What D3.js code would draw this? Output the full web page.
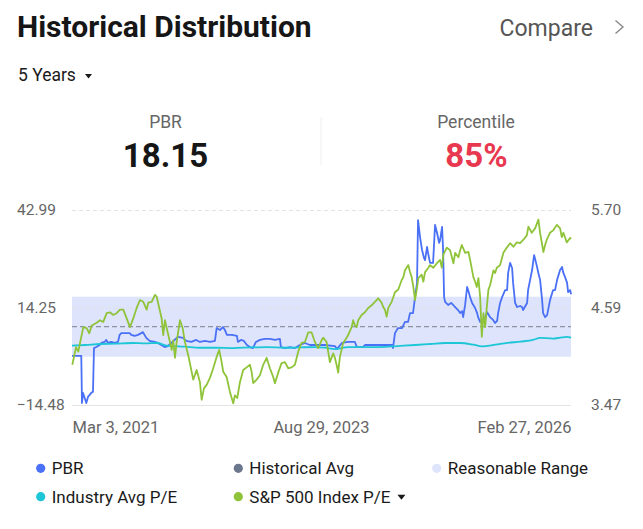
<!DOCTYPE html>
<html>
<head>
<meta charset="utf-8">
<script src="https://cdn.jsdelivr.net/npm/d3@7"></script>
<style>
  html, body { margin: 0; padding: 0; background: #ffffff; }
  svg { display: block; font-family: Roboto, "Noto Sans", Arial, sans-serif; }
</style>
</head>
<body>
<svg id="chart" width="643" height="529"></svg>
<script>
// ---------------- DATA ----------------
// dates as decimal years
const pbr = [
  [2021.167,0.0],[2021.260,0.0],[2021.267,-13.9],[2021.277,-10.9],[2021.294,-12.4],[2021.310,-13.9],
  [2021.327,-12.1],[2021.344,-11.5],[2021.360,-10.9],[2021.377,-10.6],[2021.387,2.3],[2021.410,2.6],
  [2021.444,3.2],[2021.460,3.8],[2021.494,4.1],[2021.510,4.7],[2021.527,3.8],[2021.560,4.1],
  [2021.594,3.8],[2021.627,4.1],[2021.644,6.2],[2021.660,6.7],[2021.697,6.7],[2021.744,6.7],
  [2021.760,6.2],[2021.794,5.9],[2021.827,6.2],[2021.860,6.7],[2021.877,7.0],[2021.910,5.3],
  [2021.944,4.4],[2021.994,4.1],[2022.027,3.8],[2022.060,3.2],[2022.094,2.6],[2022.127,2.9],
  [2022.160,3.8],[2022.194,4.7],[2022.227,5.6],[2022.277,5.3],[2022.310,4.4],[2022.360,4.1],
  [2022.410,4.7],[2022.447,4.1],[2022.497,4.4],[2022.547,4.1],[2022.597,4.4],[2022.614,8.2],
  [2022.647,7.6],[2022.677,8.5],[2022.697,7.6],[2022.717,6.2],[2022.767,6.2],[2022.817,5.9],
  [2022.827,4.1],[2022.857,4.7],[2022.887,4.4],[2022.917,3.2],[2022.947,2.6],[2022.977,2.3],
  [2023.007,4.1],[2023.047,4.7],[2023.097,5.0],[2023.147,5.0],[2023.197,4.7],[2023.247,5.0],
  [2023.257,2.6],[2023.297,2.3],[2023.347,2.6],[2023.397,2.3],[2023.447,3.2],[2023.497,3.8],
  [2023.547,3.2],[2023.597,3.2],[2023.697,3.2],[2023.797,2.9],[2023.817,2.0],[2023.867,3.8],
  [2023.927,4.1],[2023.997,4.1],[2024.017,2.6],[2024.077,2.6],[2024.097,3.2],[2024.197,3.2],
  [2024.297,3.2],[2024.367,3.2],[2024.377,2.3],[2024.397,6.7],[2024.427,8.2],[2024.467,8.2],
  [2024.497,10.0],[2024.527,10.0],[2024.547,12.6],[2024.577,12.6],[2024.597,17.3],[2024.617,21.5],
  [2024.627,40.0],[2024.647,35.0],[2024.667,31.2],[2024.687,28.8],[2024.697,28.2],[2024.717,32.1],
  [2024.727,30.3],[2024.747,27.4],[2024.777,27.4],[2024.797,38.6],[2024.817,36.2],[2024.837,33.3],
  [2024.847,34.1],[2024.867,38.0],[2024.877,31.2],[2024.887,17.3],[2024.897,15.9],[2024.927,15.0],
  [2024.957,15.6],[2024.977,15.0],[2024.997,14.4],[2025.027,13.5],[2025.047,12.6],[2025.067,13.2],
  [2025.077,11.4],[2025.097,15.0],[2025.117,20.3],[2025.127,19.4],[2025.147,17.3],[2025.167,15.6],
  [2025.197,14.1],[2025.217,12.6],[2025.227,11.4],[2025.247,10.0],[2025.277,10.6],[2025.297,11.2],
  [2025.317,12.9],[2025.347,11.4],[2025.377,10.6],[2025.397,9.7],[2025.417,10.3],[2025.427,12.6],
  [2025.447,15.6],[2025.467,17.3],[2025.497,19.4],[2025.517,19.4],[2025.527,24.4],[2025.547,27.4],
  [2025.567,25.9],[2025.577,21.5],[2025.597,15.6],[2025.617,14.4],[2025.647,14.7],[2025.667,14.4],
  [2025.677,13.5],[2025.717,15.6],[2025.727,19.4],[2025.747,22.4],[2025.767,25.3],[2025.787,29.7],
  [2025.817,26.2],[2025.827,24.7],[2025.847,22.4],[2025.867,16.5],[2025.877,12.6],[2025.897,11.4],
  [2025.917,12.0],[2025.927,13.5],[2025.947,16.5],[2025.977,19.4],[2025.997,19.4],[2026.017,22.4],
  [2026.047,25.3],[2026.067,26.2],[2026.077,24.7],[2026.097,23.2],[2026.117,21.5],[2026.127,18.8],
  [2026.147,19.4],[2026.157,18.15]
];

const industryAvg = [
  [2021.167,3.0],[2021.300,3.2],[2021.447,3.5],[2021.600,3.6],[2021.777,3.8],[2021.900,3.7],
  [2022.017,3.8],[2022.117,3.0],[2022.300,2.7],[2022.447,2.4],[2022.600,2.4],[2022.777,2.3],
  [2022.950,2.5],[2023.117,2.6],[2023.300,2.4],[2023.447,2.5],[2023.597,2.6],[2023.700,2.4],
  [2023.797,2.0],[2023.927,2.6],[2024.100,2.6],[2024.247,2.6],[2024.420,2.9],[2024.597,3.2],
  [2024.750,3.5],[2024.897,3.8],[2025.047,3.8],[2025.180,3.3],[2025.267,2.8],[2025.400,3.3],
  [2025.517,3.8],[2025.650,4.2],[2025.777,4.7],[2025.847,5.3],[2025.977,5.1],[2026.050,5.4],
  [2026.117,5.6],[2026.157,5.4]
];

const sp500PE = [
  [2021.170,3.93],[2021.187,4.02],[2021.207,4.13],[2021.230,4.08],[2021.264,4.27],[2021.280,4.36],
  [2021.314,4.35],[2021.340,4.29],[2021.364,4.38],[2021.414,4.41],[2021.447,4.44],[2021.480,4.42],
  [2021.514,4.52],[2021.547,4.53],[2021.580,4.50],[2021.614,4.52],[2021.647,4.56],[2021.680,4.56],
  [2021.714,4.46],[2021.747,4.36],[2021.780,4.46],[2021.814,4.58],[2021.847,4.67],[2021.880,4.65],
  [2021.914,4.56],[2021.930,4.64],[2021.964,4.65],[2021.997,4.73],[2022.014,4.71],[2022.040,4.58],
  [2022.064,4.46],[2022.080,4.27],[2022.097,4.44],[2022.114,4.35],[2022.147,4.19],[2022.164,4.10],
  [2022.180,4.21],[2022.197,4.01],[2022.214,4.19],[2022.247,4.44],[2022.274,4.35],[2022.297,4.19],
  [2022.330,4.04],[2022.364,3.85],[2022.380,3.76],[2022.414,3.87],[2022.447,3.73],[2022.464,3.53],
  [2022.487,3.66],[2022.514,3.70],[2022.547,3.78],[2022.580,3.89],[2022.614,4.02],[2022.640,4.10],
  [2022.664,3.96],[2022.680,3.85],[2022.714,3.79],[2022.747,3.62],[2022.780,3.49],[2022.797,3.58],
  [2022.820,3.55],[2022.847,3.73],[2022.880,3.87],[2022.914,3.90],[2022.947,3.93],[2022.964,3.85],
  [2022.980,3.72],[2023.014,3.76],[2023.047,3.81],[2023.080,3.93],[2023.114,4.01],[2023.147,3.89],
  [2023.180,3.79],[2023.197,3.72],[2023.230,3.84],[2023.264,3.95],[2023.297,3.96],[2023.330,3.89],
  [2023.364,3.90],[2023.397,3.93],[2023.430,4.08],[2023.464,4.18],[2023.497,4.19],[2023.530,4.30],
  [2023.564,4.30],[2023.597,4.19],[2023.630,4.12],[2023.664,4.21],[2023.680,4.24],[2023.714,4.19],
  [2023.730,4.08],[2023.747,3.96],[2023.780,4.06],[2023.797,4.01],[2023.814,3.93],[2023.830,3.84],
  [2023.847,4.02],[2023.880,4.18],[2023.914,4.24],[2023.930,4.27],[2023.964,4.36],[2023.980,4.44],
  [2023.997,4.38],[2024.014,4.36],[2024.030,4.44],[2024.064,4.50],[2024.097,4.53],[2024.130,4.58],
  [2024.164,4.61],[2024.197,4.65],[2024.230,4.69],[2024.264,4.64],[2024.280,4.59],[2024.297,4.56],
  [2024.314,4.48],[2024.330,4.58],[2024.364,4.65],[2024.397,4.76],[2024.430,4.79],[2024.464,4.90],
  [2024.480,4.93],[2024.497,5.01],[2024.530,5.07],[2024.547,4.99],[2024.564,4.93],[2024.580,4.82],
  [2024.597,4.67],[2024.614,4.79],[2024.630,4.92],[2024.664,4.96],[2024.680,4.88],[2024.697,4.99],
  [2024.730,5.04],[2024.747,5.07],[2024.780,5.04],[2024.814,5.09],[2024.847,5.13],[2024.864,5.04],
  [2024.880,5.19],[2024.914,5.27],[2024.947,5.24],[2024.980,5.09],[2024.997,5.21],[2025.030,5.16],
  [2025.047,5.24],[2025.064,5.30],[2025.097,5.21],[2025.130,5.22],[2025.147,5.13],[2025.180,4.93],
  [2025.197,4.88],[2025.214,4.82],[2025.230,4.92],[2025.247,4.71],[2025.264,4.25],[2025.280,4.52],
  [2025.297,4.36],[2025.314,4.59],[2025.330,4.79],[2025.347,4.84],[2025.380,5.01],[2025.397,4.98],
  [2025.414,5.04],[2025.447,5.07],[2025.480,5.21],[2025.514,5.27],[2025.547,5.32],[2025.580,5.28],
  [2025.614,5.33],[2025.647,5.32],[2025.680,5.36],[2025.714,5.41],[2025.730,5.51],[2025.764,5.44],
  [2025.797,5.49],[2025.830,5.59],[2025.847,5.44],[2025.880,5.22],[2025.897,5.30],[2025.914,5.36],
  [2025.947,5.44],[2025.980,5.47],[2026.014,5.53],[2026.047,5.49],[2026.064,5.39],[2026.080,5.44],
  [2026.114,5.33],[2026.147,5.38],[2026.157,5.37]
];

const historicalAvg = 8.60;
const reasonableRange = [-0.24, 17.44];
const leftTicks = [-14.48, 14.25, 42.99];
const rightTicks = [3.47, 4.59, 5.70];
const dateTicks = ["2021-03-03", "2023-08-29", "2026-02-27"];
const dateDomain = ["2021-03-03", "2026-02-27"];
const currentPBR = "18.15";
const currentPercentile = "85%";
const legendItems = [
  { name: "PBR", color: "#4a70f6" },
  { name: "Historical Avg", color: "#6b778d" },
  { name: "Reasonable Range", color: "#dde4fb" },
  { name: "Industry Avg P/E", color: "#1cc6d7" },
  { name: "S&P 500 Index P/E", color: "#8fc43a", caret: true }
];

// ---------------- DRAW ----------------
const svg = d3.select("#chart");
const yearToDate = t => {
  const y = Math.floor(t);
  const a = Date.UTC(y, 0, 1), b = Date.UTC(y + 1, 0, 1);
  return new Date(a + (t - y) * (b - a));
};
const parse = d3.utcParse("%Y-%m-%d");
const fmt = d3.utcFormat("%b %-d, %Y");

const L = 72, R = 571, T = 210, B = 405;
const x = d3.scaleUtc().domain(dateDomain.map(parse)).range([L, R]);
const yL = d3.scaleLinear().domain([leftTicks[0], leftTicks[2]]).range([B, T]);
const yR = d3.scaleLinear().domain([rightTicks[0], rightTicks[2]]).range([B, T]);

// header
svg.append("text").attr("x", 17).attr("y", 36.5)
  .attr("font-size", 30).attr("font-weight", 700).attr("fill", "#161616")
  .text("Historical Distribution");
svg.append("text").attr("x", 593).attr("y", 35.5).attr("text-anchor", "end")
  .attr("font-size", 23).attr("fill", "#555").text("Compare");
svg.append("path").attr("d", "M615.5,20.5 L623,27 L615.5,33.5")
  .attr("fill", "none").attr("stroke", "#888").attr("stroke-width", 1.4);

svg.append("text").attr("x", 18).attr("y", 81).attr("font-size", 17.5)
  .attr("fill", "#1a1a1a").text("5 Years");
svg.append("path").attr("d", "M85,74 L92,74 L88.5,78.5 Z").attr("fill", "#1a1a1a");

svg.append("text").attr("x", 165.5).attr("y", 127.7).attr("text-anchor", "middle")
  .attr("font-size", 17.5).attr("fill", "#666").text("PBR");
svg.append("text").attr("x", 165.5).attr("y", 166.5).attr("text-anchor", "middle")
  .attr("font-size", 33).attr("font-weight", 700).attr("fill", "#161616").text(currentPBR);
svg.append("text").attr("x", 476).attr("y", 127.7).attr("text-anchor", "middle")
  .attr("font-size", 17.5).attr("fill", "#666").text("Percentile");
svg.append("text").attr("x", 476.5).attr("y", 166.5).attr("text-anchor", "middle")
  .attr("font-size", 33).attr("font-weight", 700).attr("fill", "#e8384f").text(currentPercentile);
svg.append("line").attr("x1", 321).attr("x2", 321).attr("y1", 117).attr("y2", 165)
  .attr("stroke", "#eeeeee").attr("stroke-width", 1);

// reasonable range band
svg.append("rect").attr("x", L).attr("width", R - L)
  .attr("y", yL(reasonableRange[1]))
  .attr("height", yL(reasonableRange[0]) - yL(reasonableRange[1]))
  .attr("fill", "#dde4fb");

// gridlines
leftTicks.forEach((v, i) => {
  svg.append("line").attr("x1", L).attr("x2", R).attr("y1", yL(v) + 0.5).attr("y2", yL(v) + 0.5)
    .attr("stroke", i === 0 ? "#e4e4e4" : "#e3e3e3")
    .attr("stroke-dasharray", i === 0 ? null : "4,3").attr("stroke-width", 1);
});

// historical avg
svg.append("line").attr("x1", L).attr("x2", R)
  .attr("y1", yL(historicalAvg)).attr("y2", yL(historicalAvg))
  .attr("stroke", "#8d91a0").attr("stroke-width", 1.3).attr("stroke-dasharray", "5,3");

// axes
const axL = d3.axisLeft(yL).tickValues(leftTicks).tickSize(0).tickFormat(d3.format(".2f"));
const gL = svg.append("g").attr("transform", "translate(17,0)").call(axL);
gL.select(".domain").remove();
gL.selectAll("text").attr("x", 0).attr("text-anchor", "start")
  .attr("font-size", 15.5).attr("fill", "#666").attr("font-family", "Roboto, sans-serif");

const axR = d3.axisRight(yR).tickValues(rightTicks).tickSize(0).tickFormat(d3.format(".2f"));
const gR = svg.append("g").attr("transform", "translate(591,0)").call(axR);
gR.select(".domain").remove();
gR.selectAll("text").attr("x", 0).attr("text-anchor", "start")
  .attr("font-size", 15.5).attr("fill", "#666").attr("font-family", "Roboto, sans-serif");

const axB = d3.axisBottom(x).tickValues(dateTicks.map(parse)).tickSize(0).tickFormat(fmt);
const gB = svg.append("g").attr("transform", `translate(0,${B})`).call(axB);
gB.select(".domain").remove();
gB.selectAll("text").attr("y", 16.5).attr("dy", "0.71em")
  .attr("font-size", 16.5).attr("fill", "#666").attr("font-family", "Roboto, sans-serif")
  .attr("text-anchor", (d, i) => i === 0 ? "start" : (i === dateTicks.length - 1 ? "end" : "middle"));

// lines
const lineL = d3.line().x(d => x(yearToDate(d[0]))).y(d => yL(d[1]));
const lineR = d3.line().x(d => x(yearToDate(d[0]))).y(d => yR(d[1]));

svg.append("path").datum(pbr).attr("d", lineL).attr("fill", "none")
  .attr("stroke", legendItems[0].color).attr("stroke-width", 1.8).attr("stroke-linejoin", "round");
svg.append("path").datum(industryAvg).attr("d", lineL.curve(d3.curveMonotoneX)).attr("fill", "none")
  .attr("stroke", legendItems[3].color).attr("stroke-width", 1.8);
svg.append("path").datum(sp500PE).attr("d", lineR).attr("fill", "none")
  .attr("stroke", legendItems[4].color).attr("stroke-width", 1.8).attr("stroke-linejoin", "round");

// legend
const legendPos = [[40.7, 468.3], [238.3, 468.3], [436.7, 468.3], [40.7, 496.7], [238.3, 496.7]];
legendItems.forEach((it, i) => {
  const [cx, cy] = legendPos[i];
  svg.append("circle").attr("cx", cx).attr("cy", cy).attr("r", 4.6).attr("fill", it.color);
  const t = svg.append("text").attr("x", cx + 11).attr("y", cy + 5.9)
    .attr("font-size", 17).attr("fill", "#1a1a1a").text(it.name);
  if (it.caret) {
    const w = t.node().getComputedTextLength();
    const sx = cx + 11 + w + 7;
    svg.append("path").attr("d", `M${sx},${cy - 2} L${sx + 8},${cy - 2} L${sx + 4},${cy + 3} Z`)
      .attr("fill", "#1a1a1a");
  }
});
</script>
</body>
</html>
